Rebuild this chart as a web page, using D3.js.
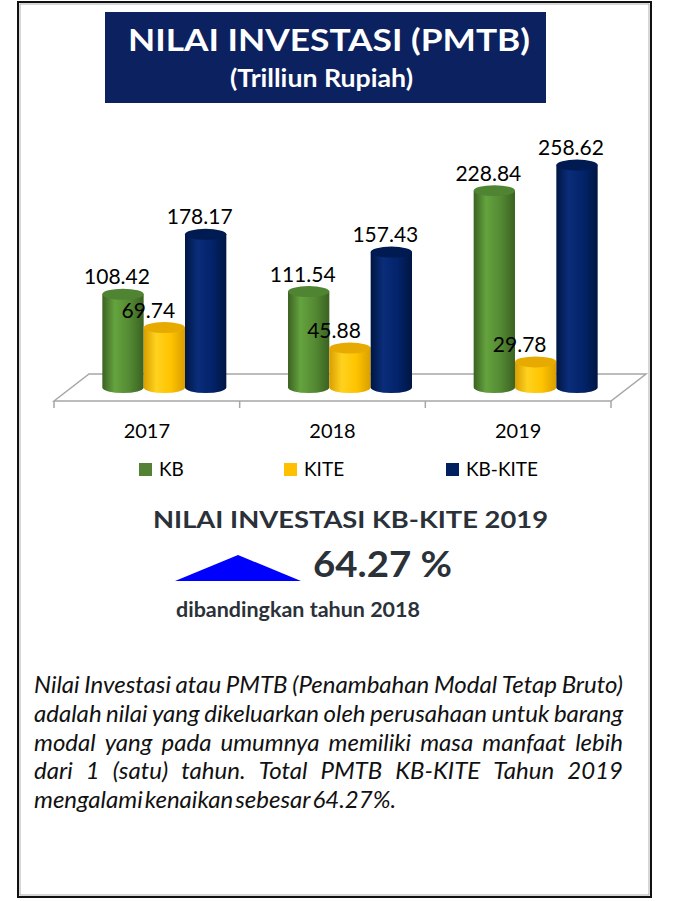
<!DOCTYPE html>
<html>
<head>
<meta charset="utf-8">
<script src="https://cdn.jsdelivr.net/npm/d3@7"></script>
<style>
  body { margin: 0; background: #fff; }
  svg { display: block; font-family: Lato, "Open Sans", sans-serif; }
</style>
</head>
<body>
<svg width="687" height="901"></svg>
<script>
var WIDTH = 687;
var HEIGHT = 901;

// data (Trilliun Rupiah)
var years = ['2017', '2018', '2019'];
var seriesNames = ['KB', 'KITE', 'KB-KITE'];
var kb = [108.42, 111.54, 228.84];
var kite = [69.74, 45.88, 29.78];
var kbKite = [178.17, 157.43, 258.62];

var titleLines = ['NILAI INVESTASI (PMTB)', '(Trilliun Rupiah)'];
var summaryTitle = 'NILAI INVESTASI KB-KITE 2019';
var summaryValue = '64.27 %';
var summaryNote = 'dibandingkan tahun 2018';
var paragraph = [
    'Nilai Investasi atau PMTB (Penambahan Modal Tetap Bruto)',
    'adalah nilai yang dikeluarkan oleh perusahaan untuk barang',
    'modal yang pada umumnya memiliki masa manfaat lebih',
    'dari 1 (satu) tahun. Total PMTB KB-KITE Tahun 2019',
    'mengalami kenaikan sebesar 64.27%.'
];

var values = [kb, kite, kbKite];
var rows = [];
years.forEach(function(yr, i) {
    seriesNames.forEach(function(s, j) {
        rows.push({ year: yr, series: s, value: values[j][i], idx: j });
    });
});

// colours: [edge, highlight, mid, top]
var palette = {
    'KB': ['#3b6222', '#64a33e', '#548a33', '#4f8432'],
    'KITE': ['#d99e00', '#ffd21e', '#ffc400', '#e6aa00'],
    'KB-KITE': ['#001642', '#0a2d7a', '#03236a', '#001a52']
};
var legendColor = { 'KB': '#548235', 'KITE': '#ffc000', 'KB-KITE': '#002060' };
var labelShift = { 'KB': -6, 'KITE': -16, 'KB-KITE': -6 };

var svg = d3.select('svg')
    .attr('width', WIDTH)
    .attr('height', HEIGHT);

var defs = svg.append('defs');
seriesNames.forEach(function(s, i) {
    var g = defs.append('linearGradient')
        .attr('id', 'cyl' + i)
        .attr('x1', '0%').attr('x2', '100%').attr('y1', '0%').attr('y2', '0%');
    var c = palette[s];
    [[0, c[0]], [0.3, c[1]], [0.65, c[2]], [1, c[0]]].forEach(function(st) {
        g.append('stop').attr('offset', st[0]).attr('stop-color', st[1]);
    });
});

// frame
svg.append('rect')
    .attr('x', 18).attr('y', 2).attr('width', 633).attr('height', 895)
    .attr('fill', 'none').attr('stroke', '#111').attr('stroke-width', 2);
svg.append('rect')
    .attr('x', 20).attr('y', 4).attr('width', 629).attr('height', 891)
    .attr('fill', 'none').attr('stroke', '#999').attr('stroke-width', 0.8);

// fitted text helper: start x, baseline, size, width on the picture
function fitText(str, x0, y0, size, len, weight, color) {
    return svg.append('text')
        .attr('x', x0).attr('y', y0)
        .attr('font-size', size).attr('font-weight', weight).attr('fill', color)
        .attr('textLength', len).attr('lengthAdjust', 'spacingAndGlyphs')
        .text(str);
}

// title box
svg.append('rect')
    .attr('x', 105).attr('y', 12).attr('width', 441).attr('height', 91)
    .attr('fill', '#0c215f');
fitText(titleLines[0], 128, 51, 31, 402, 'bold', '#fff');
fitText(titleLines[1], 230, 87, 25, 183, 'bold', '#fff');

// chart scales
var floorFront = 401, depthX = 35, depthY = 27;
var x = d3.scaleBand().domain(years).range([54, 611]);
var xs = d3.scaleBand().domain(seriesNames).range([-62, 62]);
var base = floorFront - depthY / 2;
var y = d3.scaleLinear().domain([0, 300]).range([base, base - 258]);

var chart = svg.append('g');

// floor
var fl = x.range()[0], fr = x.range()[1];
chart.append('path')
    .attr('d', 'M' + fl + ',' + floorFront + 'L' + (fl + depthX) + ',' + (floorFront - depthY) +
        'L' + (fr + depthX) + ',' + (floorFront - depthY) + 'L' + fr + ',' + floorFront + 'Z')
    .attr('fill', 'none').attr('stroke', '#a6a6a6').attr('stroke-width', 1.5);

var ticks = [fl].concat(years.map(function(d) { return x(d) + x.bandwidth(); }));
chart.selectAll('line.tick')
    .data(ticks).enter().append('line')
    .attr('x1', function(d) { return d; }).attr('x2', function(d) { return d; })
    .attr('y1', floorFront).attr('y2', floorFront + 7)
    .attr('stroke', '#a6a6a6').attr('stroke-width', 1.5);

// cylinders
var rx = xs.bandwidth() / 2, ry = 5.5;
function cx(d) { return x(d.year) + x.bandwidth() / 2 + depthX / 2 + xs(d.series) + xs.bandwidth() / 2; }

var bars = chart.selectAll('g.bar')
    .data(rows).enter().append('g').attr('class', 'bar');
bars.append('path')
    .attr('d', function(d) {
        var c = cx(d), yt = y(d.value), yb = y(0);
        return 'M' + (c - rx) + ',' + yt + 'L' + (c - rx) + ',' + yb +
            'A' + rx + ',' + ry + ' 0 0 0 ' + (c + rx) + ',' + yb +
            'L' + (c + rx) + ',' + yt + 'Z';
    })
    .attr('fill', function(d) { return 'url(#cyl' + d.idx + ')'; });
bars.append('ellipse')
    .attr('cx', cx).attr('cy', function(d) { return y(d.value); })
    .attr('rx', rx).attr('ry', ry)
    .attr('fill', function(d) { return palette[d.series][3]; });

bars.append('text')
    .attr('x', function(d) { return cx(d) + labelShift[d.series]; })
    .attr('y', function(d) { return y(d.value) - 10; })
    .attr('text-anchor', 'middle')
    .attr('font-size', 21).attr('fill', '#000')
    .text(function(d) { return d.value.toFixed(2); });

// category labels
chart.selectAll('text.cat')
    .data(years).enter().append('text')
    .attr('class', 'cat')
    .attr('x', function(d) { return x(d) + x.bandwidth() / 2; })
    .attr('y', 438)
    .attr('text-anchor', 'middle')
    .attr('font-size', 20).attr('fill', '#000')
    .text(function(d) { return d; });

// legend
var legendX = [139, 284, 446];
var legend = chart.selectAll('g.legend')
    .data(seriesNames).enter().append('g')
    .attr('transform', function(d, i) { return 'translate(' + legendX[i] + ',463)'; });
legend.append('rect')
    .attr('width', 13).attr('height', 13)
    .attr('fill', function(d) { return legendColor[d]; });
legend.append('text')
    .attr('x', 20).attr('y', 13)
    .attr('font-size', 19).attr('fill', '#000')
    .text(function(d) { return d; });

// summary block
fitText(summaryTitle, 153, 528, 22, 395, 'bold', '#2b3138');
svg.append('path')
    .attr('d', 'M175,581L238,555L301,581Z')
    .attr('fill', '#0000ff');
fitText(summaryValue, 313, 577, 37, 139, 'bold', '#2b3138');
fitText(summaryNote, 176, 617, 20, 244, 'bold', '#2b3138');

// justified paragraph
var pLeft = 34, pRight = 623, pTop = 693, pStep = 28.8;
paragraph.forEach(function(line, i) {
    var words = line.split(' ');
    var t = svg.append('text')
        .attr('y', pTop + i * pStep)
        .attr('font-size', 24).attr('font-style', 'italic').attr('fill', '#111');
    var spans = words.map(function(w) {
        return t.append('tspan').attr('x', pLeft).text(w);
    });
    var widths = spans.map(function(s) { return s.node().getComputedTextLength(); });
    var total = d3.sum(widths);
    var last = i === paragraph.length - 1;
    var gap = last ? 2 : (pRight - pLeft - total) / (words.length - 1);
    var pos = pLeft;
    spans.forEach(function(s, k) {
        s.attr('x', pos);
        pos += widths[k] + gap;
    });
});
</script>
</body>
</html>
